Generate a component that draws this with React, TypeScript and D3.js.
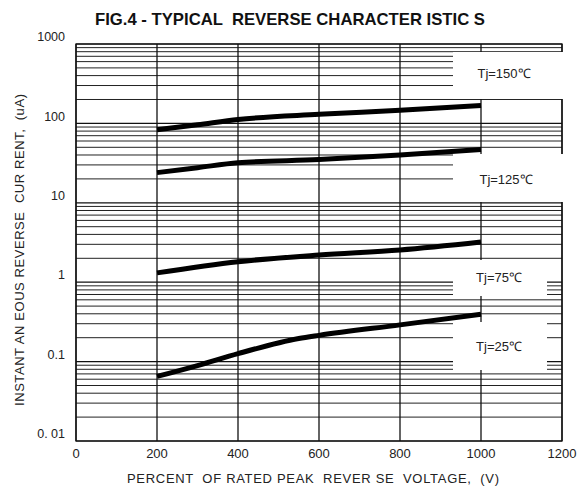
import React from "react";
import * as d3 from "d3";

const xTicks = [0, 200, 400, 600, 800, 1000, 1200];
const yTicks = [1000, 100, 10, 1, 0.1, 0.01];
const yTickLabels = ["1000", "100", "10", "1", "0.1", "0. 01"];

const v150 = [200, 300, 400, 600, 800, 1000];
const i150 = [83, 96, 112, 130, 146, 168];
const v125 = [200, 300, 400, 600, 800, 1000];
const i125 = [24, 27.7, 32, 35, 40, 47];
const v75 = [200, 400, 600, 800, 1000];
const i75 = [1.31, 1.81, 2.2, 2.54, 3.2];
const v25 = [200, 300, 400, 550, 600, 800, 1000];
const i25 = [0.065, 0.089, 0.126, 0.195, 0.214, 0.29, 0.394];

const seriesLabels = ["Tj=150℃", "Tj=125℃", "Tj=75℃", "Tj=25℃"];

const title = "FIG.4 - TYPICAL  REVERSE CHARACTER ISTIC S";
const xTitle = "PERCENT  OF RATED PEAK  REVER SE  VOLTAGE,  (V)";
const yTitle = "INSTANT AN EOUS REVERSE  CUR RENT,  (uA)";

export default function App() {
  const left = 76, right = 562, top = 44, bottom = 441;
  const x = d3.scaleLinear().domain([0, 1200]).range([left, right]);
  const y = d3.scaleLog().domain([0.01, 1000]).range([bottom, top]);

  const minors: number[] = [];
  for (let e = -2; e < 3; e++) {
    for (let m = 2; m <= 9; m++) minors.push(m * Math.pow(10, e));
  }

  const line = d3
    .line<[number, number]>()
    .x((d) => x(d[0]))
    .y((d) => y(d[1]))
    .curve(d3.curveMonotoneX);

  const series = [
    { v: v150, i: i150 },
    { v: v125, i: i125 },
    { v: v75, i: i75 },
    { v: v25, i: i25 },
  ];

  const boxes = [
    { x0: 453, x1: 572, y0: 52, y1: 99, lx: 504, ly: 75 },
    { x0: 453, x1: 572, y0: 154, y1: 202, lx: 506, ly: 181 },
    { x0: 453, x1: 547, y0: 260, y1: 296, lx: 499, ly: 279 },
    { x0: 453, x1: 547, y0: 322, y1: 370, lx: 499, ly: 348 },
  ];

  const font = "'Liberation Sans', Arial, sans-serif";

  return (
    <svg
      width={584}
      height={491}
      style={{ position: "absolute", left: 0, top: 0, background: "#fff" }}
      fontFamily={font}
    >
      <rect x={0} y={0} width={584} height={491} fill="#fff" />
      <text
        x={290}
        y={24.5}
        textAnchor="middle"
        fontSize={17}
        fontWeight="bold"
        fill="#111"
        textLength={390}
        lengthAdjust="spacingAndGlyphs"
        style={{ whiteSpace: "pre" }}
      >
        {title}
      </text>

      {minors.map((m, k) => (
        <line key={"m" + k} x1={left} x2={right} y1={y(m)} y2={y(m)} stroke="#222" strokeWidth={1} />
      ))}
      {yTicks.map((t, k) => (
        <line key={"d" + k} x1={left} x2={right} y1={y(t)} y2={y(t)} stroke="#111" strokeWidth={1.2} />
      ))}
      {xTicks.map((t, k) => (
        <line key={"v" + k} x1={x(t)} x2={x(t)} y1={top} y2={bottom} stroke="#111" strokeWidth={1.3} />
      ))}
      <rect x={left} y={top} width={right - left} height={bottom - top} fill="none" stroke="#111" strokeWidth={1.3} />

      {boxes.map((b, k) => (
        <rect key={"b" + k} x={b.x0} y={b.y0} width={b.x1 - b.x0} height={b.y1 - b.y0} fill="#fff" />
      ))}

      {series.map((s, k) => (
        <path
          key={"s" + k}
          d={line(s.v.map((v, j) => [v, s.i[j]] as [number, number])) || ""}
          fill="none"
          stroke="#000"
          strokeWidth={5}
          strokeLinecap="butt"
        />
      ))}

      {boxes.map((b, k) => (
        <text key={"l" + k} x={b.lx} y={b.ly} textAnchor="middle" dominantBaseline="middle" fontSize={13} fill="#222">
          {seriesLabels[k]}
        </text>
      ))}

      {yTicks.map((t, k) => (
        <text key={"yt" + k} x={65} y={y(t) - 6} textAnchor="end" dominantBaseline="middle" fontSize={12.5} fill="#222">
          {yTickLabels[k]}
        </text>
      ))}
      {xTicks.map((t, k) => (
        <text key={"xt" + k} x={x(t)} y={455} textAnchor="middle" dominantBaseline="middle" fontSize={13} fill="#222">
          {t}
        </text>
      ))}

      <text
        x={313}
        y={480}
        textAnchor="middle"
        dominantBaseline="middle"
        fontSize={13}
        fill="#222"
        textLength={372}
        lengthAdjust="spacing"
        style={{ whiteSpace: "pre" }}
      >
        {xTitle}
      </text>
      <text
        transform={`translate(21,250) rotate(-90)`}
        textAnchor="middle"
        dominantBaseline="middle"
        fontSize={13}
        fill="#222"
        textLength={312}
        lengthAdjust="spacing"
        style={{ whiteSpace: "pre" }}
      >
        {yTitle}
      </text>
    </svg>
  );
}
